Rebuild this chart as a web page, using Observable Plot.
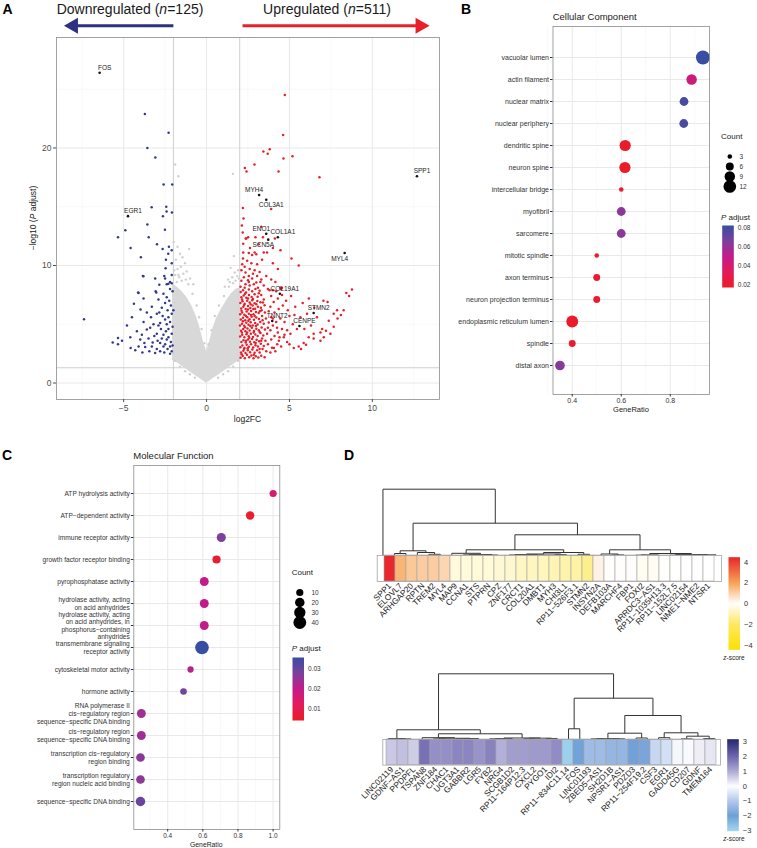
<!DOCTYPE html>
<html><head><meta charset="utf-8">
<script src="https://cdn.jsdelivr.net/npm/d3@7"></script>
<script src="https://cdn.jsdelivr.net/npm/@observablehq/plot@0.6"></script>
<style>
body{margin:0;background:#fff;}
#root{position:relative;width:757px;height:848px;overflow:hidden;background:#fff;font-family:"Liberation Sans",Arial,Helvetica,sans-serif;color:#1a1a1a;}
.t{position:absolute;white-space:nowrap;line-height:1;}
</style></head><body><div id="root"></div>
<script>
// ================= DATA =================
// Panel A volcano
const xMajorA = [-5, 0, 5, 10];
const xMinorA = [-7.5, -2.5, 2.5, 7.5, 12.5];
const yMajorA = [0, 10, 20];
const yMinorA = [5, 15, 25];
const log2fcCut = [-2, 2];
const padjCut = [1.3];
const grayX  = [-2.05,-1.8,-1.5,-1.2,-0.9,-0.6,-0.4,-0.2,0,0.2,0.4,0.6,0.9,1.2,1.5,1.8,2.05];
const grayLo = [1.95,1.75,1.45,1.15,0.85,0.55,0.38,0.18,0,0.18,0.38,0.55,0.85,1.15,1.45,1.75,1.95];
const grayHi = [8.4,8.2,7.8,7.3,6.6,5.6,4.7,3.6,2.7,3.6,4.7,5.5,6.3,7.0,7.6,8.0,8.1];
const grayPts = [[-1.89,18.6],[-1.7,17.6],[1.59,17.8],[1.65,10.8],[-1.6,11.0],[-1.45,10.7],[-1.85,10.5],[-1.3,10.2],[-1.55,9.9],[-1.75,9.7],[-1.2,9.5],[-1.4,9.3],[-1.9,9.2],[-1.65,9.0],[-1.0,8.9],[-1.25,8.8],[-1.5,8.7],[-1.8,8.6],[1.45,9.8],[1.7,9.4],[1.85,9.1],[1.55,9.0],[1.3,8.8],[1.75,8.7],[1.95,8.9],[1.4,8.6],[1.6,8.5],[-1.05,11.4],[-0.8,8.4],[1.1,8.2],[-1.95,9.6],[-1.7,9.2],[-1.1,8.4],[-0.85,7.6],[-0.6,6.6],[-0.45,5.6],[-0.3,4.6],[-0.12,3.4],[0.12,3.3],[0.3,4.5],[0.5,5.7],[0.75,6.6],[1.05,7.4],[1.35,8.2],[1.9,9.6],[-2.0,2.6],[-1.9,1.9],[-1.6,1.4],[-1.3,1.0],[-1.0,0.75],[-0.7,0.45],[0.7,0.45],[1.0,0.75],[1.3,1.0],[1.6,1.4],[1.9,1.9],[2.0,2.4],[-1.98,12.0],[-1.75,11.6]];
const bluePts = [[-3.72,22.9],[-2.29,21.3],[-3.57,20.0],[-3.09,19.2],[-2.59,16.9],[-2.07,16.9],[-3.31,14.95],[-2.43,15.0],[-2.41,14.6],[-2.09,14.5],[-2.63,14.2],[-3.57,13.5],[-4.9,13.0],[-2.51,13.05],[-5.34,12.4],[-3.49,12.4],[-2.99,11.8],[-4.58,11.5],[-2.65,11.4],[-2.27,11.6],[-2.1,11.3],[-2.31,11.0],[-3.96,10.7],[-2.45,10.5],[-2.1,10.2],[-2.47,9.76],[-3.81,9.08],[-2.1,9.2],[-2.5,8.9],[-3.1,8.9],[-2.2,8.6],[-2.1,8.5],[-4.13,7.7],[-3.03,7.7],[-3.8,7.2],[-2.4,7.3],[-3.84,9.1],[-4.1,7.66],[-3.07,7.8],[-2.85,8.37],[-2.55,9.1],[-2.4,8.4],[-2.3,8.45],[-7.39,5.42],[-5.34,3.83],[-5.66,3.44],[-5.34,3.3],[-4.58,2.98],[-4.1,3.1],[-3.87,2.6],[-3.7,3.06],[-3.3,3.1],[-4.38,6.75],[-3.98,6.25],[-3.8,5.2],[-4.2,4.4],[-3.6,4.55],[-3.3,6.5],[-3.0,5.9],[-2.8,5.1],[-3.0,4.2],[-2.6,4.1],[-2.4,3.7],[-2.2,3.1],[-2.1,2.7],[-2.6,3.1],[-2.3,4.6],[-2.1,5.9],[-2.8,3.4],[-3.0,2.9],[-2.5,5.4],[-3.5,3.8],[-3.2,5.0],[-2.15,6.6],[-2.25,7.0],[-2.35,6.2],[-2.5,6.8],[-2.7,6.4],[-2.9,7.1],[-2.2,5.2],[-2.4,5.0],[-2.65,5.7],[-2.85,6.0],[-2.1,4.2],[-2.3,3.9],[-2.45,4.4],[-2.75,4.6],[-2.95,3.6],[-3.15,4.0],[-3.4,4.7],[-3.6,6.0],[-3.75,3.4],[-4.0,3.7],[-4.5,5.6],[-4.8,4.9],[-5.1,3.6],[-4.3,2.8],[-2.15,3.5],[-2.35,2.9],[-2.55,2.6],[-2.8,2.7],[-3.1,2.55],[-3.45,2.7],[-2.05,7.8],[-2.2,8.0],[-2.6,7.6],[-2.0,6.2],[-2.05,4.8],[-2.2,2.5],[-2.05,3.2],[-3.35,5.6],[-3.9,4.1],[-4.6,3.9],[-2.5,3.3],[-2.7,3.8],[-3.25,3.45],[-2.9,4.9],[-2.3,5.6]];
const redPts = [[4.72,24.5],[4.62,21.1],[3.81,19.9],[3.43,19.7],[3.69,19.5],[5.18,19.3],[4.64,19.1],[2.89,18.6],[2.31,18.3],[2.41,18.0],[4.34,18.0],[6.81,17.5],[3.9,14.8],[2.19,14.9],[2.23,14.0],[2.13,13.4],
[2.05,2.15],[2.18,2.3],[2.31,2.12],[2.44,2.4],[2.57,2.2],[2.7,2.35],[2.83,2.1],[2.97,2.28],[3.12,2.18],[3.3,2.32],[3.5,2.2],
[2.08,2.6],[2.22,2.75],[2.35,2.55],[2.49,2.8],[2.63,2.62],[2.76,2.85],[2.9,2.58],[3.05,2.78],[3.2,2.6],[3.38,2.9],[3.6,2.7],
[2.04,3.05],[2.16,3.2],[2.29,2.98],[2.42,3.25],[2.55,3.08],[2.68,3.3],[2.81,3.02],[2.95,3.22],[3.1,3.1],[3.27,3.35],[3.45,3.15],[3.7,3.3],
[2.1,3.5],[2.23,3.65],[2.36,3.45],[2.5,3.7],[2.62,3.52],[2.75,3.75],[2.88,3.48],[3.02,3.68],[3.17,3.55],[3.35,3.8],[3.55,3.6],
[2.03,3.95],[2.15,4.1],[2.28,3.9],[2.41,4.15],[2.54,3.98],[2.67,4.2],[2.8,3.92],[2.94,4.12],[3.08,4.0],[3.25,4.25],[3.42,4.05],[3.65,4.2],
[2.08,4.45],[2.21,4.6],[2.34,4.4],[2.47,4.65],[2.6,4.48],[2.73,4.7],[2.86,4.42],[3.0,4.62],[3.15,4.5],[3.32,4.72],[3.52,4.55],
[2.02,4.9],[2.14,5.05],[2.27,4.88],[2.4,5.12],[2.53,4.95],[2.66,5.18],[2.79,4.9],[2.93,5.1],[3.08,4.98],[3.24,5.2],[3.45,5.05],[3.75,5.15],
[2.07,5.4],[2.2,5.55],[2.33,5.35],[2.46,5.6],[2.59,5.42],[2.72,5.65],[2.86,5.38],[3.0,5.58],[3.16,5.45],[3.35,5.7],[3.58,5.5],
[2.03,5.85],[2.15,6.0],[2.28,5.82],[2.42,6.08],[2.55,5.9],[2.69,6.12],[2.83,5.86],[2.98,6.05],[3.14,5.95],[3.32,6.2],[3.52,6.0],
[2.09,6.35],[2.22,6.5],[2.36,6.3],[2.5,6.55],[2.64,6.38],[2.78,6.6],[2.93,6.32],[3.1,6.5],[3.28,6.4],[3.5,6.62],
[2.04,6.8],[2.17,6.95],[2.3,6.75],[2.45,7.0],[2.6,6.85],[2.75,7.05],[2.9,6.78],[3.06,6.98],[3.25,6.88],[3.45,7.1],
[2.1,7.3],[2.24,7.45],[2.4,7.25],[2.56,7.5],[2.72,7.32],[2.9,7.55],[3.08,7.35],[3.3,7.5],
[2.06,7.75],[2.2,7.9],[2.38,7.7],[2.55,7.95],[2.75,7.8],[2.95,8.0],[3.2,7.85],
[2.12,2.45],[2.26,2.9],[2.38,3.6],[2.13,4.3],[2.32,4.75],[2.19,5.25],[2.37,5.7],[2.11,6.15],[2.27,6.65],[2.14,7.1],[2.32,7.6],[2.48,2.95],[2.58,3.85],[2.45,4.3],[2.64,4.85],[2.52,5.3],[2.68,5.8],[2.5,6.25],[2.66,6.7],[2.5,7.2],[2.85,2.4],[2.96,3.4],[2.84,4.3],[2.98,4.85],[2.9,5.7],[2.82,6.3],[3.0,6.7],[2.8,7.15],[3.2,2.9],[3.3,3.6],[3.2,4.35],[3.38,5.35],[3.22,6.1],[3.4,6.85],[3.15,7.65],
[3.85,2.6],[3.95,3.0],[4.06,2.98],[4.26,3.3],[4.36,3.6],[4.66,3.9],[4.86,3.5],[5.26,2.98],[4.15,2.7],[4.5,3.1],[5.0,3.3],[3.9,3.7],[4.1,4.0],[4.3,4.3],[4.55,4.6],[4.86,4.5],[5.06,4.2],[3.85,4.5],[4.0,4.9],[4.2,5.2],[4.45,5.5],[4.7,5.2],[5.2,5.0],[3.9,5.6],[4.1,6.0],[4.35,6.3],[4.6,6.6],[4.9,6.2],[5.3,5.8],[3.85,6.5],[4.05,6.9],[4.3,7.2],[4.55,7.5],[4.8,7.0],[5.1,7.4],[3.9,7.4],[4.2,7.8],[4.5,8.0],[3.75,6.1],[3.7,4.7],[3.8,7.9],[4.0,5.5],[4.25,4.7],[4.4,3.9],[4.7,4.1],[5.45,4.6],[5.35,6.5],[5.0,5.7],
[5.56,3.1],[5.86,3.4],[6.16,3.9],[6.46,4.2],[6.87,4.3],[6.97,4.6],[7.07,3.9],[7.37,5.3],[7.67,5.9],[7.87,6.2],[8.27,6.2],[7.67,4.8],[7.47,4.2],[6.87,3.6],[6.46,3.8],[5.66,5.6],[6.06,5.9],[6.66,5.6],[5.7,2.9],[6.0,3.25],[7.2,4.45],[7.9,5.5],[8.1,5.8],[6.3,4.9],[6.17,7.2],[8.43,7.66],[8.77,7.95],[8.6,7.4],[7.05,7.0],[5.8,6.8],[6.5,6.4],[7.3,6.9],[5.9,4.6],
[2.51,12.4],[2.4,12.3],[2.21,11.86],[2.95,12.4],[3.4,12.4],[4.12,12.3],[4.46,11.3],[2.21,11.1],[2.55,11.06],[2.75,10.9],[2.9,11.1],[3.0,10.95],[3.45,11.1],[3.65,11.1],[2.2,10.6],[2.45,10.4],[2.7,10.2],[3.05,10.1],[3.35,10.5],[4.0,10.2],[4.3,9.7],[5.12,10.6],[5.56,10.0],[2.1,9.6],[2.35,9.4],[2.55,9.1],[2.8,9.3],[3.05,9.1],[3.3,8.8],[3.6,9.1],[3.9,8.8],[4.15,8.6],[4.45,8.1],[2.1,8.7],[2.35,8.4],[2.6,8.3],[2.85,8.4],[3.1,8.1],[3.45,8.3],[3.7,8.0],[4.0,7.9],[4.55,8.1],[2.15,10.1],[2.3,9.9],[2.6,9.7],[2.9,9.6],[3.2,9.45],[2.25,9.0],[2.5,8.75],[2.75,8.9],[3.0,8.55],[3.25,8.6],[2.05,8.2],[2.3,8.1],[2.55,8.6],[2.36,12.3],[2.62,11.5],[3.15,11.8],[4.0,11.5],[2.18,12.8],[3.3,13.3]];
const genes = ["FOS","EGR1","MYH4","COL3A1","ENO1","COL1A1","SCN5A","MYL4","COL19A1","STMN2","TNNT2","CENPE","SPP1"];
const geneX = [-6.45,-4.74,3.17,3.6,3.6,4.3,3.72,8.33,4.42,6.46,3.96,5.6,12.69];
const geneY = [26.4,14.2,16.0,15.6,12.7,12.4,12.2,11.06,7.6,5.96,5.28,4.85,17.6];
const labAboveRight = ["FOS","EGR1","COL19A1","STMN2","TNNT2","CENPE","SPP1","COL1A1"];
const labAboveLeft = ["MYH4","ENO1"];
const labBelowRight = ["COL3A1"];
const labBelowLeft = ["SCN5A","MYL4"];
const arrowLevel = 30.4;
const arrowDown = [-1.97, -8.6];
const arrowUp = [2.2, 13.45];

// Panel B cellular component
const ccTerms = ["vacuolar lumen","actin filament","nuclear matrix","nuclear periphery","dendritic spine","neuron spine","intercellular bridge","myofibril","sarcomere","mitotic spindle","axon terminus","neuron projection terminus","endoplasmic reticulum lumen","spindle","distal axon"];
const ccRatio = [0.933,0.887,0.856,0.855,0.616,0.615,0.6,0.6,0.6,0.5,0.5,0.5,0.4,0.4,0.35];
const ccCount = [14,9,7,7,10,10,3,7,7,3,5,5,11,5,8];
const ccPadj = [0.082,0.045,0.078,0.078,0.018,0.018,0.02,0.062,0.062,0.02,0.02,0.02,0.018,0.021,0.063];
const ccCountBreaks = [3,6,9,12];
const ccPadjBreaks = [0.02,0.04,0.06,0.08];

// Panel C molecular function
const mfTerms = ["ATP hydrolysis activity","ATP\u2212dependent activity","immune receptor activity","growth factor receptor binding","pyrophosphatase activity","hydrolase activity, acting\non acid anhydrides","hydrolase activity, acting\non acid anhydrides, in\nphosphorus\u2212containing\nanhydrides","transmembrane signaling\nreceptor activity","cytoskeletal motor activity","hormone activity","RNA polymerase II\ncis\u2212regulatory region\nsequence\u2212specific DNA binding","cis\u2212regulatory region\nsequence\u2212specific DNA binding","transcription cis\u2212regulatory\nregion binding","transcription regulatory\nregion nucleic acid binding","sequence\u2212specific DNA binding"];
const mfRatio = [1.0,0.869,0.705,0.678,0.608,0.608,0.608,0.595,0.53,0.49,0.25,0.25,0.245,0.245,0.245];
const mfCount = [10,15,18,14,17,17,17,46,7,8,17,17,16,16,20];
const mfPadj = [0.015,0.005,0.028,0.006,0.02,0.02,0.02,0.036,0.022,0.029,0.024,0.024,0.026,0.026,0.03];
const mfCountBreaks = [10,20,30,40];
const mfPadjBreaks = [0.01,0.02,0.03];

// Panel D heatmaps
const upGenes = ["SPP1","ELOVL7","ARHGAP20","RPTN","TREM2","MYL4","MAP9","CCNA1","STS","PTPRN","CPZ","ZNF177","CRCT1","COL20A1","DMBT1","MYH3","CHI3L1","RP11\u2212526F3.1","STMN2","INSYN2A","DEFB103A","MARCHF4","FBP1","FOXI2","ARRDC3\u2212AS1","RP11\u22121035H13.3","RP11\u2212152L7.5","LINC02154","NME1\u2212NME2","NTSR1"];
const upZ = [4.45,1.6,1.2,1.1,1.1,0.9,-0.45,-0.45,-0.5,-0.5,-0.55,-0.6,-0.75,-0.8,-0.85,-0.95,-1.05,-1.15,-1.45,0.3,0.05,0.04,0.05,-0.2,-0.15,0.02,0.01,0.0,0.0,0.0];
// merges: [leftX, leftH, rightX, rightH, height] (x = leaf index)
const upMerges = [[1,0,2,0,2],[4,0,5,0,1.2],[3,0,4.5,1.2,3],[1.5,2,3.75,3,4.7],
 [7,0,8,0,0.6],[9,0,10,0,0.5],[7.5,0.6,9.5,0.5,1.0],[6,0,8.5,1.0,2.2],
 [11,0,12,0,0.5],[13,0,14,0,0.6],[15,0,16,0,0.8],[11.5,0.5,13.5,0.6,1.0],[12.5,1.0,15.5,0.8,1.5],[17,0,18,0,1.2],[14,1.5,17.5,1.2,3.0],[7.25,2.2,15.75,3.0,5.7],
 [20,0,21,0,0.6],[19,0,20.5,0.6,1.5],[22,0,23,0,0.3],[22.5,0.3,24,0,0.6],[25,0,26,0,0.3],[27,0,28,0,0.4],[27.5,0.4,29,0,0.7],[25.5,0.3,28.25,0.7,1.0],[23.25,0.6,26.875,1.0,2.0],[19.75,1.5,25.06,2.0,5.7],
 [11.5,5.7,22.4,5.7,20.7],[2.625,4.7,16.95,20.7,32.3],[0,0,9.79,32.3,66.3]];
const downGenes = ["LINC02119","GDNF\u2212AS1","PPDPFL","TSPAN8","ZNF184","CHAC1","UGT3A1","GABBR2","LGR5","FYB2","NRG4","SCGB1D2","RP11\u2212164P12.3","CXCL2","PYGO1","IDI2","RP11\u2212834C11.14","FOS","LINC01193","ZBED5\u2212AS1","SH2D1B","NPSR1\u2212AS1","PDZD3","RP11\u2212254F19.2","CSF3","EGR1","GADD45G","CD207","GDNF","TMEM164"];
const downZ = [0.65,0.75,0.6,1.85,1.4,1.4,1.55,1.55,1.35,1.6,0.95,1.2,1.2,1.25,1.25,1.45,-2.9,-2.05,-1.3,-1.3,-1.45,-1.45,-1.95,-1.85,-0.75,-0.6,-0.15,-0.1,0.2,0.3];
const downMerges = [[1,0,2,0,0.3],[0,0,1.5,0.3,0.6],
 [4,0,5,0,0.3],[6,0,7,0,0.5],[6.5,0.5,8,0,0.7],[4.5,0.3,7.25,0.7,0.9],[3,0,5.875,0.9,1.5],
 [9,0,10,0,0.4],[9.5,0.4,11,0,0.6],[12,0,13,0,0.4],[14,0,15,0,0.7],[12.5,0.4,14.5,0.7,1.0],[10.25,0.6,13.5,1.0,1.2],
 [4.44,1.5,11.875,1.2,5.4],[0.75,0.6,8.16,5.4,9.4],
 [16,0,17,0,10.4],[18,0,19,0,0.3],[20,0,21,0,0.4],[18.5,0.3,20.5,0.4,0.6],[22,0,23,0,1.2],[19.5,0.6,22.5,1.2,6.0],
 [24,0,25,0,1.5],[26,0,27,0,0.3],[28,0,29,0,0.6],[26.5,0.3,28.5,0.6,3.0],[24.5,1.5,27.5,3.0,6.4],
 [21.0,6.0,26.0,6.4,23.7],[16.5,10.4,23.5,23.7,41],[4.45,9.4,20.0,41,65.4]];
const upZTicks = [-4,-2,0,2,4];
const downZTicks = [-3,-2,-1,0,1,2,3];

// ================= HELPERS =================
const root = document.getElementById("root");
const FONT = "'Liberation Sans', Arial, Helvetica, sans-serif";
const st = {fontFamily: FONT, background: "transparent", overflow: "visible", maxWidth: "none", color: "#333"};
function put(el, left, top){ el.style.position="absolute"; el.style.left=left+"px"; el.style.top=top+"px"; root.appendChild(el); }
function txt(html, x, y, o={}){
  const d=document.createElement("div"); d.className="t"; d.innerHTML=html;
  d.style.fontSize=(o.size||8)+"px"; d.style.left=x+"px"; d.style.top=y+"px";
  d.style.color=o.color||"#1a1a1a"; if(o.bold) d.style.fontWeight="bold";
  const a=o.anchor||"middle"; const tx=a==="middle"?"-50%":a==="end"?"-100%":"0";
  d.style.transform=`translate(${tx},-50%)`+(o.rotate?` rotate(${o.rotate}deg)`:"");
  root.appendChild(d);
}
const padjInterp = d3.piecewise(d3.interpolateRgb, ["#ec1c27","#e31b5a","#c41b8b","#7b419c","#374ea2"]);
function colorbar(left, top, w, h, bar, domain, color, ticks, fmt, fs){
  let svg;
  const opts = {width:w, height:h, marginLeft:bar[0], marginRight:w-bar[1], marginTop:bar[2], marginBottom:h-bar[3], style:st,
    x:{domain:[0,1], axis:null}, y:{domain, axis:null}, color};
  const lab = Plot.text(ticks, {y:d=>d, text:d=>fmt(d), frameAnchor:"right", dx:4, textAnchor:"start", fontSize:fs, fill:"#333"});
  try {
    svg = Plot.plot({...opts, marks:[Plot.raster({fill:(x,y)=>y, x1:0, x2:1, y1:domain[0], y2:domain[1]}), lab]});
  } catch(e) {
    const n=60, step=(domain[1]-domain[0])/n;
    const seg=d3.range(n).map(i=>domain[0]+i*step);
    svg = Plot.plot({...opts, marks:[Plot.rect(seg,{x1:0,x2:1,y1:d=>d,y2:d=>d+step*1.05,fill:d=>d+step/2}), lab]});
  }
  put(svg, left, top);
}

// ================= PANEL A =================
const grayCore = grayX.map((x,i)=>({x, lo:grayLo[i], hi:grayHi[i]}));
const gl = genes.map((g,i)=>({g, x:geneX[i], y:geneY[i]}));
const pick = names => gl.filter(d=>names.includes(d.g));
const volcano = Plot.plot({
  width:445, height:435, marginLeft:56, marginRight:6, marginTop:37, marginBottom:36, style:st,
  x:{domain:[-9.05,14.05]}, y:{domain:[-1.4,29.4]},
  marks:[
    Plot.gridX({ticks:xMinorA, stroke:"#f3f3f3", strokeOpacity:1, strokeWidth:0.6}),
    Plot.gridY({ticks:yMinorA, stroke:"#f3f3f3", strokeOpacity:1, strokeWidth:0.6}),
    Plot.gridX({ticks:xMajorA, stroke:"#e6e6e6", strokeOpacity:1, strokeWidth:0.9}),
    Plot.gridY({ticks:yMajorA, stroke:"#e6e6e6", strokeOpacity:1, strokeWidth:0.9}),
    Plot.ruleX(log2fcCut, {stroke:"#c9c9c9", strokeWidth:0.9}),
    Plot.ruleY(padjCut, {stroke:"#c9c9c9", strokeWidth:0.9}),
    Plot.areaY(grayCore, {x:"x", y1:"lo", y2:"hi", fill:"#d8d8d8"}),
    Plot.dot(grayPts, {x:d=>d[0], y:d=>d[1], r:1.2, fill:"#d0d0d0"}),
    Plot.dot(bluePts, {x:d=>d[0], y:d=>d[1], r:1.25, fill:"#2f3a8a"}),
    Plot.dot(redPts, {x:d=>d[0], y:d=>d[1], r:1.25, fill:"#e5202b"}),
    Plot.dot(gl, {x:"x", y:"y", r:1.3, fill:"#111"}),
    Plot.text(pick(labAboveRight), {x:"x", y:"y", text:"g", dx:5, dy:-5, fontSize:6.5, fill:"#222"}),
    Plot.text(pick(labAboveLeft), {x:"x", y:"y", text:"g", dx:-5, dy:-5, fontSize:6.5, fill:"#222"}),
    Plot.text(pick(labBelowRight), {x:"x", y:"y", text:"g", dx:5, dy:5, fontSize:6.5, fill:"#222"}),
    Plot.text(pick(labBelowLeft), {x:"x", y:"y", text:"g", dx:-5, dy:5.5, fontSize:6.5, fill:"#222"}),
    Plot.frame({stroke:"#8c8c8c", strokeWidth:0.8}),
    Plot.axisX({ticks:xMajorA, tickSize:3, tickPadding:2, fontSize:8.5, fill:"#4d4d4d", stroke:"#4d4d4d", label:null}),
    Plot.axisY({ticks:yMajorA, tickSize:3, tickPadding:2, fontSize:8.5, fill:"#4d4d4d", stroke:"#4d4d4d", label:null}),
    Plot.ruleY([arrowLevel], {x1:arrowDown[0], x2:arrowDown[1]+0.5, stroke:"#2e3183", strokeWidth:3.2}),
    Plot.dot([arrowLevel], {x:arrowDown[1], y:d=>d, symbol:"triangle", r:6, rotate:-90, dx:9.3, fill:"#2e3183"}),
    Plot.ruleY([arrowLevel], {x1:arrowUp[0], x2:arrowUp[1]-0.5, stroke:"#e8202a", strokeWidth:3.2}),
    Plot.dot([arrowLevel], {x:arrowUp[1], y:d=>d, symbol:"triangle", r:6, rotate:90, dx:-9.3, fill:"#e8202a"})
  ]
});
put(volcano, 0, 0);
txt("A", 7.5, 9, {size:14, bold:true, color:"#000"});
txt("Downregulated (<i>n</i>=125)", 130, 9, {size:14});
txt("Upregulated (<i>n</i>=511)", 327, 9, {size:14});
txt("\u2212log10 (<i>P</i> adjust)", 33, 218, {size:8.5, rotate:-90, color:"#222"});
txt("log2FC", 247.5, 419, {size:8.5, color:"#222"});

// ================= PANEL B =================
const ccData = ccTerms.map((t,i)=>({t, x:ccRatio[i], c:ccCount[i], p:ccPadj[i]}));
const rB = {type:"pow", exponent:0.5, domain:[3,12], range:[2.3,6.3]};
const colB = {type:"linear", domain:[0.017,0.082], interpolate:padjInterp};
const plotB = Plot.plot({
  width:262, height:420, marginLeft:102.5, marginRight:3, marginTop:26, marginBottom:26, style:st,
  x:{domain:[0.3216,0.96]}, y:{type:"point", domain:ccTerms, range:[41.7,380.5]}, r:rB, color:colB,
  marks:[
    Plot.gridX({ticks:[0.3,0.5,0.7,0.9], stroke:"#f3f3f3", strokeOpacity:1, strokeWidth:0.6}),
    Plot.gridX({ticks:[0.4,0.6,0.8], stroke:"#e6e6e6", strokeOpacity:1, strokeWidth:0.9}),
    Plot.gridY({stroke:"#e6e6e6", strokeOpacity:1, strokeWidth:0.9}),
    Plot.dot(ccData, {x:"x", y:"t", r:"c", fill:"p"}),
    Plot.frame({stroke:"#8c8c8c", strokeWidth:0.8}),
    Plot.axisX({ticks:[0.4,0.6,0.8], tickFormat:d3.format(".1f"), tickSize:2.5, tickPadding:1.5, fontSize:7, fill:"#333", stroke:"#333", label:null}),
    Plot.axisY({tickSize:2.5, tickPadding:1.5, fontSize:7, fill:"#333", stroke:"#333", label:null})
  ]
});
put(plotB, 450, 0);
txt("B", 466, 9, {size:14, bold:true, color:"#000"});
txt("Cellular Component", 552.7, 17, {size:9.5, anchor:"start", color:"#222"});
txt("GeneRatio", 631, 410, {size:7.5, color:"#222"});
txt("Count", 721, 137, {size:8, anchor:"start", color:"#222"});
const legB = Plot.plot({width:42, height:60, margin:0, style:st, x:{domain:[0,1],axis:null},
  y:{type:"point", domain:ccCountBreaks, range:[8.7,48.7], axis:null}, r:rB,
  marks:[Plot.dot(ccCountBreaks, {y:d=>d, r:d=>d, fill:"#000", frameAnchor:"left", dx:14.3}),
         Plot.text(ccCountBreaks, {y:d=>d, text:d=>String(d), frameAnchor:"left", dx:24, textAnchor:"start", fontSize:6.5, fill:"#333"})]});
put(legB, 715, 142);
txt("<i>P</i> adjust", 721, 218, {size:8, anchor:"start", color:"#222"});
colorbar(715, 220, 42, 72, [6.7, 18.3, 5, 67], [0.017,0.082], colB, ccPadjBreaks, d3.format(".2f"), 6.5);

// ================= PANEL C =================
const mfData = mfTerms.map((t,i)=>({t, x:mfRatio[i], c:mfCount[i], p:mfPadj[i]}));
const rC = {type:"pow", exponent:0.5, domain:[10,40], range:[3.6,6.4]};
const colC = {type:"linear", domain:[0.004,0.036], interpolate:padjInterp};
const plotC = Plot.plot({
  width:285, height:408, marginLeft:133.3, marginRight:5.7, marginTop:25, marginBottom:19, style:st,
  x:{domain:[0.207,1.038]}, y:{type:"point", domain:mfTerms, range:[39.3,375]}, r:rC, color:colC,
  marks:[
    Plot.gridX({ticks:[0.3,0.5,0.7,0.9], stroke:"#f3f3f3", strokeOpacity:1, strokeWidth:0.6}),
    Plot.gridX({ticks:[0.4,0.6,0.8,1.0], stroke:"#e6e6e6", strokeOpacity:1, strokeWidth:0.9}),
    Plot.gridY({stroke:"#e6e6e6", strokeOpacity:1, strokeWidth:0.9}),
    Plot.dot(mfData, {x:"x", y:"t", r:"c", fill:"p"}),
    Plot.frame({stroke:"#8c8c8c", strokeWidth:0.8}),
    Plot.axisX({ticks:[0.4,0.6,0.8,1.0], tickFormat:d3.format(".1f"), tickSize:2.5, tickPadding:1.5, fontSize:6.5, fill:"#333", stroke:"#333", label:null}),
    Plot.axisY({tickSize:2.5, tickPadding:1.5, fontSize:6.6, lineHeight:1.15, fill:"#333", stroke:"#333", label:null})
  ]
});
put(plotC, 0, 440);
txt("C", 7, 455, {size:14, bold:true, color:"#000"});
txt("Molecular Function", 133.3, 456, {size:9.5, anchor:"start", color:"#222"});
txt("GeneRatio", 206.3, 845, {size:6.8, color:"#222"});
txt("Count", 291.7, 573.3, {size:8, anchor:"start", color:"#222"});
const legC = Plot.plot({width:40, height:60, margin:0, style:st, x:{domain:[0,1],axis:null},
  y:{type:"point", domain:mfCountBreaks, range:[8.7,49], axis:null}, r:rC,
  marks:[Plot.dot(mfCountBreaks, {y:d=>d, r:d=>d, fill:"#000", frameAnchor:"left", dx:14.3}),
         Plot.text(mfCountBreaks, {y:d=>d, text:d=>String(d), frameAnchor:"left", dx:26, textAnchor:"start", fontSize:6.5, fill:"#333"})]});
put(legC, 285, 578);
txt("<i>P</i> adjust", 291.7, 649, {size:8, anchor:"start", color:"#222"});
colorbar(285, 652, 42, 72, [7, 18.5, 5, 68], [0.004,0.036], colC, mfPadjBreaks, d3.format(".2f"), 6.5);

// ================= PANEL D =================
txt("D", 349, 455, {size:14, bold:true, color:"#000"});
function segs(merges){
  const s=[];
  for(const [xl,hl,xr,hr,h] of merges){
    s.push({x1:xl+0.5,y1:hl,x2:xl+0.5,y2:h},{x1:xl+0.5,y1:h,x2:xr+0.5,y2:h},{x1:xr+0.5,y1:h,x2:xr+0.5,y2:hr});
  }
  return s;
}
const colUp = {type:"linear", domain:[-4.45,-2,0,2,4.48], range:["#fde000","#fde962","#ffffff","#f8a354","#e8262c"]};
const colDown = {type:"linear", domain:[-3.05,-2,-1,0,1,2,3.18], range:["#a4d8ef","#6e9fd8","#b4c9ec","#ffffff","#aeabd6","#6e67b0","#23276e"]};
function heat(left, cellsTop, cellsLeft, cellsRight, cellH, dendTop, dendH, genesArr, zArr, merges, color){
  const w = cellsRight-left;
  const dend = Plot.plot({width:w, height:cellsTop-dendTop, marginLeft:cellsLeft-left, marginRight:0,
    marginTop:cellsTop-dendTop-dendH, marginBottom:0, style:st,
    x:{domain:[0,genesArr.length], axis:null}, y:{domain:[0,dendH], axis:null},
    marks:[Plot.link(segs(merges), {x1:"x1",y1:"y1",x2:"x2",y2:"y2", stroke:"#333", strokeWidth:1})]});
  put(dend, left, dendTop);
  const data = genesArr.map((g,i)=>({g, z:zArr[i]}));
  const hm = Plot.plot({width:w, height:cellH+70, marginLeft:cellsLeft-left, marginRight:0, marginTop:0, marginBottom:70, style:st,
    x:{domain:genesArr, padding:0}, color,
    marks:[Plot.cell(data, {x:"g", fill:"z", stroke:"#a3a3a3", strokeWidth:0.6}),
      Plot.frame({stroke:"#a3a3a3", strokeWidth:0.8}),
      Plot.axisX({tickRotate:-45, tickSize:0, tickPadding:3, fontSize:8.3, fill:"#1a1a1a", label:null})]});
  put(hm, left, cellsTop);
}
heat(340, 555, 376.7, 721, 26, 480, 66.3, upGenes, upZ, upMerges, colUp);
heat(340, 738.7, 382.3, 720, 25.6, 665, 65.4, downGenes, downZ, downMerges, colDown);
colorbar(720, 550, 37, 105, [8, 19.5, 6.7, 99.3], [-4.45,4.48], colUp, upZTicks, d3.format("d"), 7.5);
txt("<i>z</i>-score", 734, 658, {size:6.5, color:"#222"});
colorbar(720, 733, 37, 103, [6.7, 18.3, 5.7, 97.7], [-3.05,3.18], colDown, downZTicks, d3.format("d"), 7.5);
txt("<i>z</i>-score", 734, 838.5, {size:6.5, color:"#222"});
</script></body></html>
